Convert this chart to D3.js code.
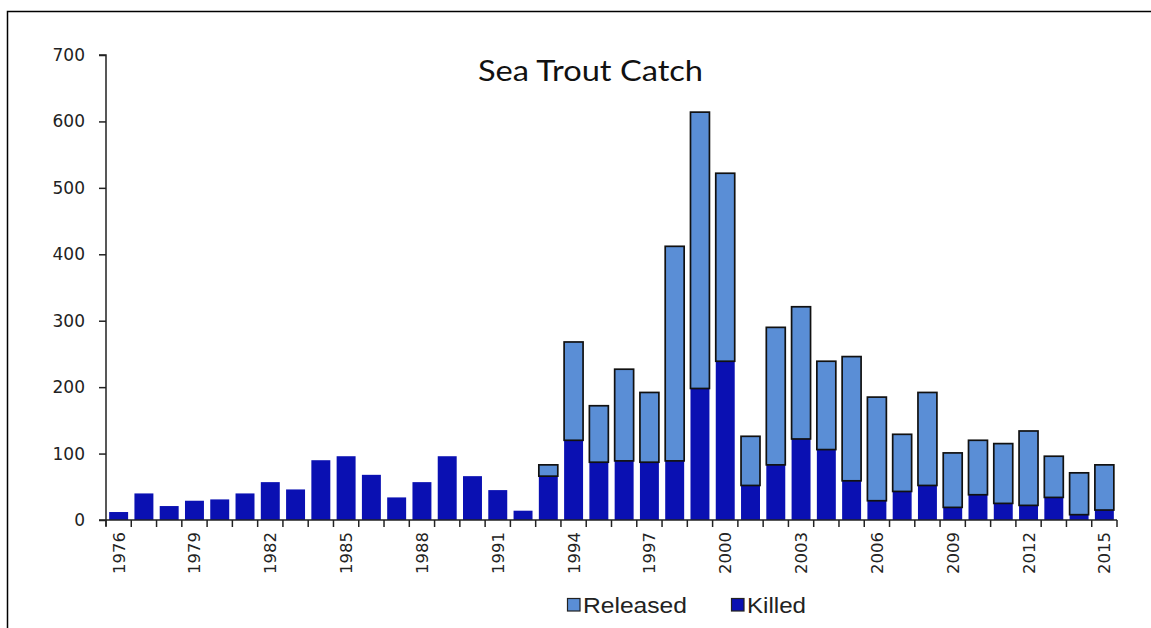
<!DOCTYPE html>
<html>
<head>
<meta charset="utf-8">
<script src="https://cdn.jsdelivr.net/npm/d3@7"></script>
<style>
  html, body { margin: 0; padding: 0; background: #fff; }
  svg { display: block; }
</style>
</head>
<body>
<svg id="chart" width="1151" height="628"></svg>
<script>
// Sea trout catch per season, split into fish killed and fish released
const years = d3.range(1976, 2016).map(String);
const killed = [12, 40, 21, 29, 31, 40, 57, 46, 90, 96, 68, 34, 57, 96, 66, 45, 14, 66, 120, 87,
                89, 87, 89, 198, 239, 52, 83, 122, 106, 59, 29, 43, 52, 19, 38, 25, 22, 34, 8, 15];
const released = [0, 0, 0, 0, 0, 0, 0, 0, 0, 0, 0, 0, 0, 0, 0, 0, 0, 17, 148, 85,
                  138, 105, 323, 416, 283, 74, 207, 199, 133, 187, 156, 86, 140, 82, 82, 90, 112, 62, 63, 68];
const yTicks = [0, 100, 200, 300, 400, 500, 600, 700];
const xTickLabels = years.filter((d, i) => i % 3 === 0);

const colors = { released: "#5A8ED6", killed: "#0A10B2" };

const svg = d3.select("#chart");

// outer frame
svg.append("rect")
  .attr("x", 7.5).attr("y", 11.5)
  .attr("width", 1160).attr("height", 640)
  .attr("fill", "none").attr("stroke", "#000").attr("stroke-width", 1.5);

const plotLeft = 106, plotRight = 1117, plotTop = 55, plotBottom = 520;

const x = d3.scaleBand().domain(years).range([plotLeft, plotRight]).paddingInner(0.25).paddingOuter(0.125);
const y = d3.scaleLinear().domain([0, 700]).range([plotBottom, plotTop]);

const rows = years.map((yr, i) => ({ year: yr, killed: killed[i], released: released[i] }));
const stack = d3.stack().keys(["killed", "released"])(rows);

// killed segments
svg.append("g")
  .selectAll("rect")
  .data(stack[0])
  .join("rect")
  .attr("x", d => x(d.data.year))
  .attr("width", x.bandwidth())
  .attr("y", d => y(d[1]))
  .attr("height", d => y(d[0]) - y(d[1]))
  .attr("fill", colors.killed);

// released segments, outlined
svg.append("g")
  .selectAll("rect")
  .data(stack[1].filter(d => d[1] > d[0]))
  .join("rect")
  .attr("x", d => x(d.data.year))
  .attr("width", x.bandwidth())
  .attr("y", d => y(d[1]))
  .attr("height", d => y(d[0]) - y(d[1]))
  .attr("fill", colors.released)
  .attr("stroke", "#111")
  .attr("stroke-width", 1.7);

// y axis
const yAxis = svg.append("g")
  .attr("transform", `translate(${plotLeft},0)`)
  .call(d3.axisLeft(y).tickValues(yTicks).tickSize(7).tickPadding(14));
yAxis.select(".domain").attr("stroke", "#222").attr("stroke-width", 1.5)
  .attr("d", `M-7,${plotTop}H0V${plotBottom + 6}`);
yAxis.selectAll(".tick line").attr("stroke", "#222").attr("stroke-width", 1.5);
yAxis.selectAll(".tick text")
  .attr("font-family", "DejaVu Sans, Verdana, sans-serif")
  .attr("font-size", 17)
  .attr("fill", "#222");

// x axis: ticks between the categories
const xAxisG = svg.append("g").attr("transform", `translate(0,${plotBottom})`);
xAxisG.append("line")
  .attr("x1", plotLeft - 7).attr("x2", plotRight)
  .attr("stroke", "#222").attr("stroke-width", 1.5);
const step = x.step();
const boundaries = years.map((d, i) => x(d) - (step - x.bandwidth()) / 2).concat([plotRight]);
xAxisG.selectAll(".xtick")
  .data(boundaries)
  .join("line")
  .attr("class", "xtick")
  .attr("x1", d => d).attr("x2", d => d)
  .attr("y1", 0).attr("y2", 7)
  .attr("stroke", "#222").attr("stroke-width", 1.5);
xAxisG.selectAll(".xlabel")
  .data(xTickLabels)
  .join("text")
  .attr("class", "xlabel")
  .attr("transform", d => `translate(${x(d) + x.bandwidth() / 2 + 6},12) rotate(-90)`)
  .attr("text-anchor", "end")
  .attr("font-family", "DejaVu Sans, Verdana, sans-serif")
  .attr("font-size", 16.5)
  .attr("fill", "#222")
  .text(d => d);

// title
svg.append("text")
  .attr("x", 478).attr("y", 81)
  .attr("font-family", "Lato, 'Open Sans', sans-serif")
  .attr("font-size", 28)
  .attr("textLength", 225)
  .attr("lengthAdjust", "spacingAndGlyphs")
  .attr("fill", "#111")
  .text("Sea Trout Catch");

// legend
const legendItems = [
  { key: "released", label: "Released", x: 567, w: 104 },
  { key: "killed", label: "Killed", x: 731, w: 59 }
];
const lg = svg.append("g").selectAll("g").data(legendItems).join("g")
  .attr("transform", d => `translate(${d.x},0)`);
lg.append("rect")
  .attr("x", 0.5).attr("y", 598.5).attr("width", 12.5).attr("height", 12.5)
  .attr("fill", d => colors[d.key]).attr("stroke", "#222").attr("stroke-width", 1.2);
lg.append("text")
  .attr("x", 16).attr("y", 612.5)
  .attr("font-family", "'Liberation Sans', Arial, sans-serif")
  .attr("font-size", 22)
  .attr("textLength", d => d.w)
  .attr("lengthAdjust", "spacingAndGlyphs")
  .attr("fill", "#222")
  .text(d => d.label);
</script>
</body>
</html>
